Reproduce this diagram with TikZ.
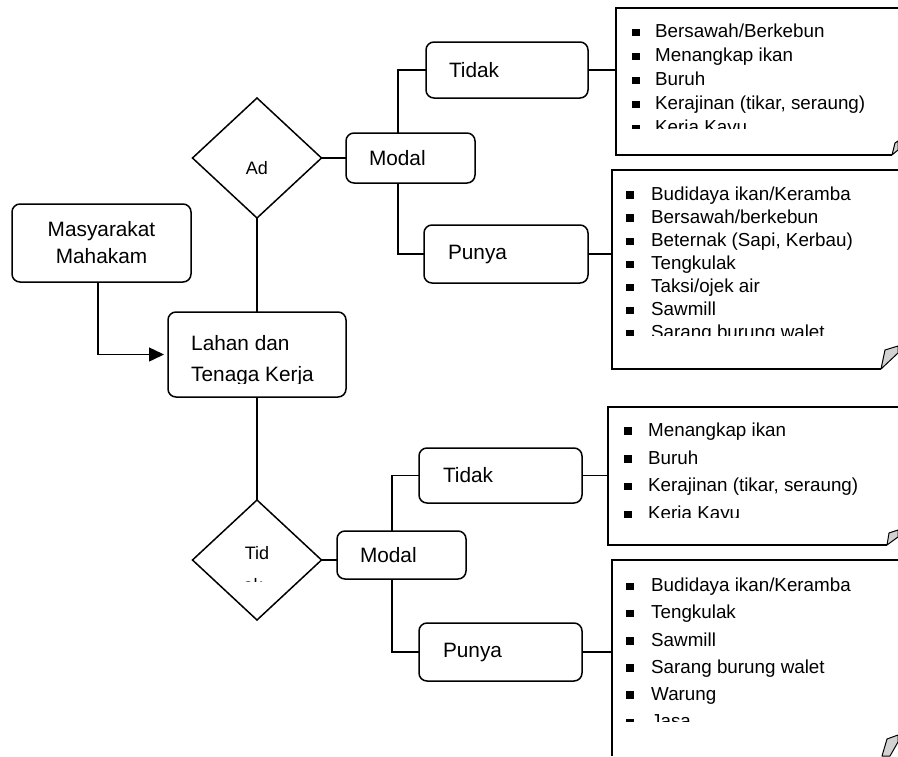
\documentclass[tikz,border=0pt]{standalone}
\usepackage{fontspec}
\setmainfont{Liberation Sans}
\usetikzlibrary{shapes.geometric,arrows.meta,calc}
\tikzset{
 ln/.style={line width=1.5pt},
 box/.style={draw, line width=1.5pt, rounded corners=8pt, outer sep=0pt, inner ysep=0pt, font=\fontsize{20.8}{27}\selectfont},
 lbox/.style={box, align=left},
 dia/.style={draw, diamond, line width=1.5pt, outer sep=0pt, inner sep=0pt, minimum width=129pt, minimum height=120pt},
 dtxt/.style={font=\fontsize{18}{25}\selectfont, inner sep=0pt, anchor=base},
 btxt/.style={font=\fontsize{20.8}{27}\selectfont, inner sep=0pt, anchor=base west},
 notebox/.style={draw=none, outer sep=0pt, inner sep=0pt, anchor=north west},
 item/.style={anchor=base west, inner sep=0pt, font=\fontsize{18.8}{23}\selectfont},
 fold/.style={fill=gray!35, draw, line width=1pt, line join=round},
 arr/.style={ln, -{Triangle[length=15pt,width=14pt]}, shorten >=4pt},
}
\newcommand{\bul}[1]{\makebox[#1][l]{\rule[1.5pt]{7.3pt}{7.3pt}}}
\begin{document}
\begin{tikzpicture}[x=1pt,y=-1pt]
\useasboundingbox (0,0) rectangle (898,756);
\clip (0,0) rectangle (898,756);

% boxes
\node[box, align=center, minimum width=179pt, minimum height=78pt] (masy) at (101.5,243) {Masyarakat\\Mahakam};
\node[box, minimum width=178pt, minimum height=85pt] (lahan) at (257,354.5) {};
\begin{scope}
 \clip (168,312) rectangle (346,383);
 \node[btxt] (lahanT1) at (191,350) {Lahan dan};
 \node[btxt] (lahanT2) at (191,381.5) {Tenaga Kerja};
\end{scope}

% diamonds
\node[dia] (dA) at (257,158) {};
\node[dtxt] (dAt) at (257,174.5) {Ad};
\node[dia] (dB) at (257,560) {};
\node[dtxt] (dBt) at (257,559.5) {Tid};
\begin{scope}
 \clip (220,540) rectangle (300,581.5);
 \node[dtxt] (dBt2) at (253,591.5) {ak};
\end{scope}

% upper branch
\node[lbox, inner xsep=23pt, text width=83pt, minimum height=50pt] (modalA) at (410.5,158) {\raisebox{-3pt}{Modal}};
\node[lbox, inner xsep=23pt, text width=116pt, minimum height=56pt] (tidakA) at (507,70) {Tidak};
\node[lbox, inner xsep=24pt, text width=116pt, minimum height=58pt] (punyaA) at (506,254) {Punya};

% lower branch
\node[lbox, inner xsep=23pt, text width=83pt, minimum height=48pt] (modalB) at (401.5,555) {\raisebox{-3pt}{Modal}};
\node[lbox, inner xsep=24pt, text width=115pt, minimum height=55pt] (tidakB) at (500.5,475.5) {Tidak};
\node[lbox, inner xsep=24pt, text width=115pt, minimum height=58pt] (punyaB) at (500.5,652) {Punya};

% notes
\node[notebox, minimum width=282pt, minimum height=147pt] (noteA1) at (616,8) {};
\node[notebox, minimum width=286pt, minimum height=199pt] (noteA2) at (612,170) {};
\node[notebox, minimum width=290pt, minimum height=138pt] (noteB1) at (608,407) {};
\node[notebox, minimum width=286pt, minimum height=196pt] (noteB2) at (612,560) {};

\draw[ln] (noteA1.north east) -- (noteA1.north west) -- (noteA1.south west) -- (892,155);
\draw[fold] (892,155) -- (895,143) -- (898,141) -- (898,150) -- cycle;
\draw[ln] (noteA2.north east) -- (noteA2.north west) -- (noteA2.south west) -- (881,369);
\draw[fold] (881,369) -- (885,350) -- (898,346) -- (898,353) -- cycle;
\draw[ln] (noteB1.north east) -- (noteB1.north west) -- (noteB1.south west) -- (887,545);
\draw[fold] (887,545) -- (889,533) -- (898,530) -- (898,537) -- cycle;
\draw[ln] (noteB2.north east) -- (noteB2.north west) -- (noteB2.south west);
\draw[fold] (882,756) -- (887,739) -- (898,735) -- (898,742) -- (890,756) -- cycle;

% note texts
\begin{scope}
 \clip (616,8) rectangle (898,128);
 \foreach \t [count=\i] in {Bersawah/Berkebun, Menangkap ikan, Buruh, {Kerajinan (tikar, seraung)}, Kerja Kayu}
  \node[item] (a\i) at (632,{37.5+24*(\i-1)}) {\bul{23pt}\t};
\end{scope}
\begin{scope}
 \clip (612,170) rectangle (898,335);
 \foreach \t [count=\i] in {Budidaya ikan/Keramba, Bersawah/berkebun, {Beternak (Sapi, Kerbau)}, Tengkulak, Taksi/ojek air, Sawmill, Sarang burung walet}
  \node[item] (b\i) at (626,{200.2+23.05*(\i-1)}) {\bul{25pt}\t};
\end{scope}
\begin{scope}
 \clip (608,407) rectangle (898,517);
 \foreach \t [count=\i] in {Menangkap ikan, Buruh, {Kerajinan (tikar, seraung)}, Kerja Kayu}
  \node[item] (c\i) at (624,{436.2+27.8*(\i-1)}) {\bul{24pt}\t};
\end{scope}
\begin{scope}
 \clip (612,560) rectangle (898,721.7);
 \foreach \t [count=\i] in {Budidaya ikan/Keramba, Tengkulak, Sawmill, Sarang burung walet, Warung, Jasa}
  \node[item] (d\i) at (626,{591.8+27.1*(\i-1)}) {\bul{25pt}\t};
\end{scope}

% connectors
\draw[arr] ([xshift=-3.5pt]masy.south) |- (lahan.west);
\draw[ln] (lahan.north) -- (dA.south);
\draw[ln] (lahan.south) -- (dB.north);
\draw[ln] (dA.east) -- (modalA.west);
\draw[ln] ([xshift=-12.5pt]modalA.north) |- (tidakA.west);
\draw[ln] ([xshift=-12.5pt]modalA.south) |- (punyaA.west);
\draw[ln] (tidakA.east) -- (tidakA.east -| noteA1.west);
\draw[ln] (punyaA.east) -- (punyaA.east -| noteA2.west);
\draw[ln] (dB.east) -- (dB.east -| modalB.west);
\draw[ln] ([xshift=-9.5pt]modalB.north) |- (tidakB.west);
\draw[ln] ([xshift=-9.5pt]modalB.south) |- (punyaB.west);
\draw[ln] (tidakB.east) -- (tidakB.east -| noteB1.west);
\draw[ln] (punyaB.east) -- (punyaB.east -| noteB2.west);
\end{tikzpicture}
\end{document}
